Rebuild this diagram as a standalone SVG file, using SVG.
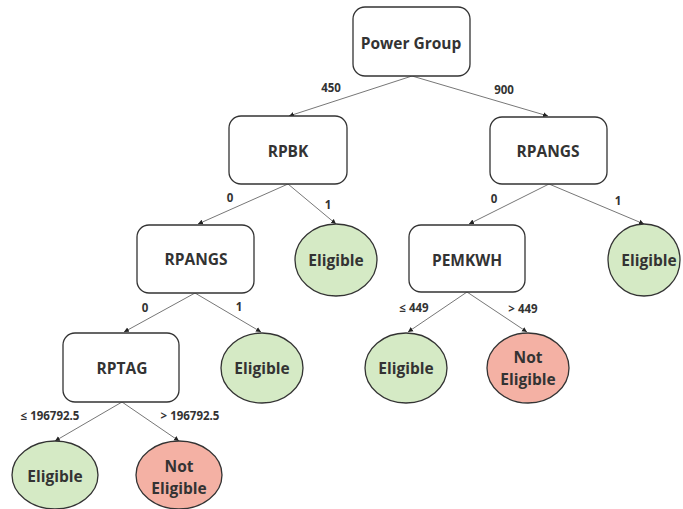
<svg xmlns="http://www.w3.org/2000/svg" width="683" height="509" viewBox="0 0 683 509">
<style>
.box{fill:#fff;stroke:#333;stroke-width:1.3}
.yes{fill:#d5eac5;stroke:#333;stroke-width:1.3}
.no{fill:#f4b1a4;stroke:#333;stroke-width:1.3}
.t{font-family:"Open Sans","Liberation Sans",sans-serif;font-weight:bold;font-size:15.5px;fill:#333;text-anchor:middle;dominant-baseline:central}
.lbl{font-family:"Open Sans","Liberation Sans",sans-serif;font-weight:bold;font-size:11.5px;fill:#333;text-anchor:middle;dominant-baseline:central}
.e{stroke:#777;stroke-width:1;fill:none;marker-end:url(#arr)}
</style>
<defs>
<marker id="arr" markerWidth="6" markerHeight="6" refX="5" refY="3" orient="auto" markerUnits="userSpaceOnUse">
<path d="M0,0.5 L5,3 L0,5.5 Z" fill="#222"/>
</marker>
</defs>
<rect width="683" height="509" fill="#fff"/>
<g id="connectors">
<line class="e" x1="412" y1="76" x2="289" y2="116"/>
<line class="e" x1="412" y1="76" x2="548" y2="116"/>
<line class="e" x1="288" y1="184" x2="198" y2="224"/>
<line class="e" x1="288" y1="184" x2="336" y2="224"/>
<line class="e" x1="549" y1="184" x2="469" y2="224"/>
<line class="e" x1="549" y1="184" x2="644" y2="224"/>
<line class="e" x1="195" y1="293" x2="124" y2="332"/>
<line class="e" x1="195" y1="293" x2="261" y2="332"/>
<line class="e" x1="467" y1="292" x2="408" y2="332"/>
<line class="e" x1="467" y1="292" x2="527" y2="332"/>
<line class="e" x1="122" y1="402" x2="55" y2="441"/>
<line class="e" x1="122" y1="402" x2="179" y2="441"/>
<text class="lbl" x="331" y="87">450</text>
<text class="lbl" x="504" y="89">900</text>
<text class="lbl" x="230" y="197">0</text>
<text class="lbl" x="328" y="204">1</text>
<text class="lbl" x="494" y="198">0</text>
<text class="lbl" x="618" y="200">1</text>
<text class="lbl" x="145" y="307">0</text>
<text class="lbl" x="239" y="306">1</text>
<text class="lbl" x="414" y="307">≤ 449</text>
<text class="lbl" x="523" y="308">&gt; 449</text>
<text class="lbl" x="50" y="415">≤ 196792.5</text>
<text class="lbl" x="190" y="415">&gt; 196792.5</text>
</g>
<g id="power-group"><rect class="box" x="353" y="7" width="117" height="69" rx="12"/><text class="t" x="411" y="43">Power Group</text></g>
<g id="rpbk"><rect class="box" x="229" y="116" width="118" height="68" rx="12"/><text class="t" x="288" y="151">RPBK</text></g>
<g id="rpangs-right"><rect class="box" x="490" y="117" width="117" height="67" rx="12"/><text class="t" x="548" y="151">RPANGS</text></g>
<g id="rpangs-left"><rect class="box" x="137" y="225" width="117" height="68" rx="12"/><text class="t" x="196" y="259">RPANGS</text></g>
<g id="eligible-rpbk"><ellipse class="yes" cx="336" cy="260" rx="41" ry="36"/><text class="t" x="336" y="260">Eligible</text></g>
<g id="pemkwh"><rect class="box" x="409" y="225" width="116" height="67" rx="12"/><text class="t" x="467" y="260">PEMKWH</text></g>
<g id="eligible-rpangs-right"><ellipse class="yes" cx="644" cy="260" rx="36" ry="36"/><text class="t" x="649" y="260">Eligible</text></g>
<g id="rptag"><rect class="box" x="63" y="333" width="116" height="69" rx="12"/><text class="t" x="122" y="368">RPTAG</text></g>
<g id="eligible-rpangs-left"><ellipse class="yes" cx="262" cy="368" rx="41" ry="35"/><text class="t" x="262" y="368">Eligible</text></g>
<g id="eligible-pemkwh"><ellipse class="yes" cx="406" cy="368" rx="41" ry="35"/><text class="t" x="406" y="368">Eligible</text></g>
<g id="not-eligible-pemkwh"><ellipse class="no" cx="528" cy="368" rx="41" ry="35"/><text class="t" x="528" y="357">Not</text><text class="t" x="528" y="379">Eligible</text></g>
<g id="eligible-rptag"><ellipse class="yes" cx="55" cy="475" rx="43" ry="34"/><text class="t" x="55" y="476">Eligible</text></g>
<g id="not-eligible-rptag"><ellipse class="no" cx="179" cy="475" rx="43" ry="34"/><text class="t" x="179" y="466">Not</text><text class="t" x="179" y="488">Eligible</text></g>
</svg>
